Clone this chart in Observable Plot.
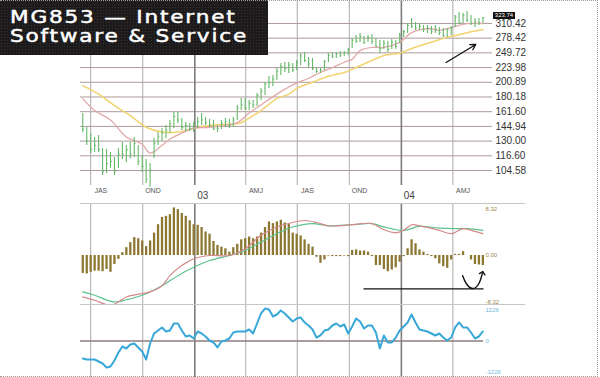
<!DOCTYPE html>
<html>
<head>
<meta charset="utf-8">
<script src="https://cdn.jsdelivr.net/npm/d3@7"></script>
<script src="https://cdn.jsdelivr.net/npm/@observablehq/plot@0.6"></script>
<style>
  html,body{margin:0;padding:0;background:#fff;}
  #wrap{position:relative;width:600px;height:377px;overflow:hidden;background:#fff;font-family:"Liberation Sans",Arial,sans-serif;}
  #wrap .panel{position:absolute;left:0;}
  #wrap svg{display:block;}
  #frame{position:absolute;left:0;top:0;width:597px;height:375px;border:1px dotted #9a9a9a;border-left:none;pointer-events:none;}
  .sep{position:absolute;left:80px;width:445px;height:0;border-top:1.5px solid #c6c6c6;}
  #title{position:absolute;left:0;top:0;width:268px;height:55px;background-color:#1c1a1b;
    background-image:radial-gradient(rgba(255,255,255,0.10) 0.6px, transparent 0.9px);background-size:3px 3px;
    color:#fff;font-family:"DejaVu Sans",sans-serif;}
  #title div{position:absolute;left:10px;font-size:18px;letter-spacing:1.5px;transform:scaleX(1.2);transform-origin:0 0;white-space:nowrap;line-height:1;-webkit-text-stroke:0.5px #fff;}
  #last{position:absolute;left:493px;top:12px;width:22px;height:7px;background:#111;color:#fff;font-size:6px;line-height:7px;text-align:center;}
</style>
</head>
<body>
<div id="wrap">
  <div id="p1" class="panel" style="top:0px"></div>
  <div id="p2" class="panel" style="top:204px"></div>
  <div id="p3" class="panel" style="top:305px"></div>
  <div class="sep" style="top:203px"></div>
  <div class="sep" style="top:304px"></div>
  <div id="title"><div style="top:8px">MG853 — Internet</div><div style="top:27px">Software &amp; Service</div></div>
  <div id="last">323.74</div>
  <div id="frame"></div>
</div>
<script>
// ---------- data (weekly bars, week 0 = 17 Jun 2002) ----------
const highs = [159.5,143.8,137.5,133.5,135.5,123.1,122.2,119.5,115.2,123.1,
  128.7,125.9,128.7,133.5,125.9,116.9,113.5,110.2,132.5,138.6,
  142.7,145.9,151.4,160.7,160.7,153.7,149.2,148.1,149.2,154.8,
  159.5,154.8,152.6,151.4,145.9,151.4,153.7,152.6,154.8,169.2,
  178.2,178.2,175.6,175.6,184.9,191.9,200.6,209.7,211.3,222.5,
  230.9,232.6,232.6,230.9,236.1,248.6,250.5,241.4,239.6,224.1,
  222.5,236.1,248.6,250.5,250.5,252.3,252.3,258.0,277.8,284.0,
  288.3,281.9,284.0,286.1,277.8,273.7,273.7,271.7,275.7,273.7,
  288.3,294.7,310.4,322.1,312.7,310.4,305.8,305.8,303.6,305.8,
  301.4,299.1,299.1,303.6,329.3,336.7,334.2,339.2,329.3,322.1,
  322.1,324.5];
const lows = [138.6,125.9,118.6,119.5,119.5,100.8,102.3,106.2,100.8,106.2,
  113.5,111.0,114.3,115.2,108.5,103.1,95.0,92.2,114.3,125.9,
  129.6,132.5,137.5,142.7,148.1,140.6,139.6,139.6,138.6,142.7,
  145.9,145.9,143.8,140.6,138.6,141.7,143.8,142.7,143.8,151.4,
  163.1,163.1,163.1,165.5,168.0,175.6,182.2,191.9,194.8,203.6,
  211.3,216.0,214.4,216.0,219.2,227.5,232.6,224.1,219.2,214.4,
  214.4,219.2,232.6,239.6,239.6,241.4,243.2,245.0,258.0,267.7,
  269.7,265.7,269.7,265.7,259.9,248.6,256.1,250.5,256.1,256.1,
  267.7,279.9,288.3,299.1,294.7,294.7,290.4,288.3,286.1,288.3,
  284.0,279.9,279.9,284.0,301.4,308.1,310.4,312.7,305.8,301.4,
  305.8,310.4];
const closes = [142,130,122,126,122,104,110,112,104,118,
  118,122,118,128,112,108,98,105,128,134,
  138,141,148,156,152,144,146,142,147,150,
  152,149,146,142,143,148,150,146,152,166,
  170,166,172,170,182,188,198,200,206,218,
  226,222,228,220,232,244,236,230,222,218,
  220,234,245,244,248,246,250,256,274,272,
  282,270,280,272,262,258,268,256,270,262,
  285,292,306,304,300,304,296,300,292,298,
  290,284,296,301,325,312,330,318,310,315,
  312,323.74];
// moving averages (week index, price)
const pinkWeeks = [0,3,7,11,15,17,20,22,25,28,32,36,39,42,45,49,53,57,60,63,66,68,70,73,76,80,83,87,90,93,97,101];
const pinkValues = [178,163,152,134,127,119,126,132,138,143,144,146,149,160,170,184,197,207,216,224,233,238,254,260,260,270,290,299,295,301,310,310];
const yellowWeeks = [0,4,8,12,16,20,24,28,32,36,40,42,45,49,52,54,58,62,66,68,72,76,80,83,88,92,97,101];
const yellowValues = [196,184,169,157,144,139,139,143,146,147,149,154,163,178,184,192,201,210,216,221,233,245,249,258,270,280,290,297];
const priceTicks = [104.58,116.60,130.00,144.94,161.60,180.18,200.89,223.98,249.72,278.42,310.42];

// MACD histogram (one per week) and lines
const macdHist = [-3.2,-3.3,-3.0,-2.8,-2.8,-2.9,-2.5,-3.0,-1.6,-0.7,
  0.5,1.4,2.3,3.2,3.0,2.6,1.6,2.6,4.0,5.5,
  6.8,7.0,7.3,8.5,8.2,7.5,7.0,6.2,5.5,5.4,
  5.0,4.2,3.8,2.5,1.8,1.5,1.2,0.6,1.4,2.0,
  2.8,3.0,3.3,3.0,3.3,4.0,5.0,6.0,5.7,6.0,
  6.3,5.8,5.6,4.0,3.8,3.5,2.8,2.0,1.5,-0.3,
  -1.4,-0.8,-0.1,-0.2,-0.2,-0.2,-0.1,-0.2,0.9,1.0,
  0.8,0.8,0.6,-0.2,-1.8,-1.8,-2.5,-2.9,-2.6,-2.2,
  -1.2,-0.2,1.2,2.8,2.1,1.0,0.6,0.2,-0.2,-0.6,
  -1.5,-2.0,-2.3,-0.8,0.2,0.2,0.7,0.0,-0.8,-1.6,
  -1.7,-1.8];
const signalWeeks = [0,3,8,11,15,20,24,28,32,37,41,45,49,53,58,62,68,73,76,81,85,90,94,97,101];
const signalValues = [-6.5,-7.1,-8.3,-7.9,-7.1,-5.4,-3.6,-2.1,-0.9,0,0.9,2.4,3.9,5.1,5.7,5.3,5.5,5.7,5.1,4.5,5.2,4.9,4.8,4.8,4.5];
const macdWeeks = [0,3,7,9,11,15,17,20,22,25,28,32,37,41,45,49,53,56,59,62,68,73,76,79,81,83,85,90,93,96,99,101];
const macdValues = [-7.4,-8.0,-8.9,-8.3,-7.4,-6.8,-6.5,-5.4,-3.6,-1.8,-0.6,0,0,1.2,3.6,5.1,5.9,6.25,5.9,5.3,5.5,5.7,4.6,4.05,4.5,5.5,5.3,4.5,3.9,4.8,4.3,3.9];
const macdTicks = [8.32, 0, -8.32];

// momentum (one per week)
const momentum = [-692,-732,-732,-732,-811,-890,-1048,-1009,-771,-455,
  -218,-297,-138,-99,-257,-415,-732,-99,297,415,
  534,376,415,692,692,415,178,218,99,376,
  297,178,20,-59,-257,-20,20,99,336,376,
  376,376,455,297,692,1088,1285,1246,969,1048,
  1206,1088,929,771,890,929,732,613,455,138,
  218,415,455,613,692,573,653,297,573,890,
  771,494,613,613,336,-297,218,-59,-59,138,
  415,573,732,1048,732,455,415,376,297,218,
  297,138,20,138,534,732,534,534,336,99,
  178,376];
const momTicks = [1226, 0, -1226];

// calendar labels
const quarterNames = ["JAS","OND","AMJ","JAS","OND","AMJ"];
const quarterStarts = [[2002,6],[2002,9],[2003,3],[2003,6],[2003,9],[2004,3]];
const yearNames = ["03","04"];
const yearStarts = [2003, 2004];

// annotations (week index, value)
const trendArrow = {w1: 91.7, p1: 232.6, w2: 99.2, p2: 265.8};
const baseLine = {w1: 71, w2: 101.3, v: -5.95};
const hookWeeks = [95.9, 96.8, 98.4, 100.0, 100.9];
const hookValues = [-3.6, -5.0, -5.9, -5.0, -3.1];

// ---------- helpers ----------
const DAY = 864e5;
const weekStart = Date.UTC(2002, 5, 17);
const wk = i => new Date(weekStart + i * 7 * DAY);
const xDomain = [new Date(Date.UTC(2002, 5, 13)), new Date(Date.UTC(2004, 5, 10))];
const minorDates = quarterStarts.map(([y, m]) => new Date(Date.UTC(y, m, 1)));
const yearDates = yearStarts.map(y => new Date(Date.UTC(y, 0, 1)));
const qLabels = quarterNames.map((t, i) => ({date: new Date(+minorDates[i] + 18 * DAY), text: t}));
const yLabels = yearNames.map((t, i) => ({date: new Date(+yearDates[i] + 14 * DAY), text: t}));

const bars = highs.map((h, i) => ({date: wk(i), high: h, low: lows[i], close: closes[i]}));
const pink = pinkWeeks.map((w, i) => ({date: wk(w), v: pinkValues[i]}));
const yellow = yellowWeeks.map((w, i) => ({date: wk(w), v: yellowValues[i]}));
const hist = macdHist.map((v, i) => ({date: wk(i), v}));
const sig = signalWeeks.map((w, i) => ({date: wk(w), v: signalValues[i]}));
const macd = macdWeeks.map((w, i) => ({date: wk(w), v: macdValues[i]}));
const mom = momentum.map((v, i) => ({date: wk(i), v}));
const hook = hookWeeks.map((w, i) => ({date: wk(w), v: hookValues[i]}));

const common = {
  width: 600, marginLeft: 80, marginRight: 108,
  x: {type: "utc", domain: xDomain, axis: null, label: null},
  style: {background: "transparent", fontFamily: "Liberation Sans, Arial, sans-serif", overflow: "visible"}
};
const vrules = () => [
  Plot.ruleX(minorDates, {stroke: "#ababab", strokeWidth: 1}),
  Plot.ruleX(yearDates, {stroke: "#7c7c7c", strokeWidth: 1.6})
];

// ---------- price panel ----------
const p1 = Plot.plot({
  ...common, height: 204, marginTop: 0, marginBottom: 19,
  y: {type: "log", domain: [93.6, 367.9], axis: null, label: null},
  marks: [
    Plot.ruleY(priceTicks, {stroke: "#ad9a9a", strokeWidth: 1}),
    ...vrules(),
    Plot.line(yellow, {x: "date", y: "v", stroke: "#f2d36e", strokeWidth: 1.5, curve: "catmull-rom"}),
    Plot.line(pink, {x: "date", y: "v", stroke: "#e2a9a9", strokeWidth: 1.3, curve: "catmull-rom"}),
    Plot.ruleX(bars, {x: "date", y1: "low", y2: "high", stroke: "#64b868", strokeWidth: 1.1}),
    Plot.link(bars, {x1: "date", x2: d => new Date(+d.date + 2.5 * DAY), y1: "close", y2: "close", stroke: "#64b868", strokeWidth: 1}),
    Plot.arrow([trendArrow], {x1: d => wk(d.w1), y1: "p1", x2: d => wk(d.w2), y2: "p2", stroke: "#111", strokeWidth: 1.3, headLength: 7}),
    Plot.axisY(priceTicks, {anchor: "right", tickSize: 0, tickPadding: 3, tickFormat: d => d.toFixed(2), fill: "#333", fontSize: 10}),
    Plot.text(qLabels, {x: "date", text: "text", frameAnchor: "bottom", dy: 7, fontSize: 7, fill: "#555"}),
    Plot.text(yLabels, {x: "date", text: "text", frameAnchor: "bottom", dy: 13, fontSize: 10, fill: "#444"})
  ]
});
document.getElementById("p1").append(p1);

// ---------- MACD panel ----------
const p2 = Plot.plot({
  ...common, height: 101, marginTop: 0, marginBottom: 0,
  y: {domain: [-8.93, 9.11], axis: null, label: null},
  marks: [
    ...vrules(),
    Plot.ruleX(hist, {x: "date", y1: 0, y2: "v", stroke: "#8c7832", strokeWidth: 2.3}),
    Plot.line(sig, {x: "date", y: "v", stroke: "#5cc28e", strokeWidth: 1.2, curve: "catmull-rom", clip: true}),
    Plot.line(macd, {x: "date", y: "v", stroke: "#d48a8a", strokeWidth: 1.2, curve: "catmull-rom", clip: true}),
    Plot.ruleY([baseLine], {x1: d => wk(d.w1), x2: d => wk(d.w2), y: "v", stroke: "#111", strokeWidth: 1.2}),
    Plot.line(hook, {x: "date", y: "v", curve: "natural", stroke: "#111", strokeWidth: 1.4, markerEnd: "arrow"}),
    Plot.axisY(macdTicks, {anchor: "right", tickSize: 0, tickPadding: -7, textAnchor: "start", fontSize: 6, fill: "#9c8a52",
      tickFormat: d => (d < 0 ? "-" : "") + Math.abs(d).toFixed(2)})
  ]
});
document.getElementById("p2").append(p2);

// ---------- momentum panel ----------
const p3 = Plot.plot({
  ...common, height: 72, marginTop: 0, marginBottom: 0,
  y: {domain: [-1444, 1404], axis: null, label: null},
  marks: [
    ...vrules(),
    Plot.ruleY([0], {x1: xDomain[0], x2: wk(101.2), stroke: "#8d7d7d", strokeWidth: 1.5}),
    Plot.line(mom, {x: "date", y: "v", stroke: "#39a7d8", strokeWidth: 2}),
    Plot.axisY(momTicks, {anchor: "right", tickSize: 0, tickPadding: -7, textAnchor: "start", fontSize: 6, fill: "#72b9de",
      tickFormat: d => (d < 0 ? "-" : "") + Math.abs(d)})
  ]
});
document.getElementById("p3").append(p3);
</script>
</body>
</html>
